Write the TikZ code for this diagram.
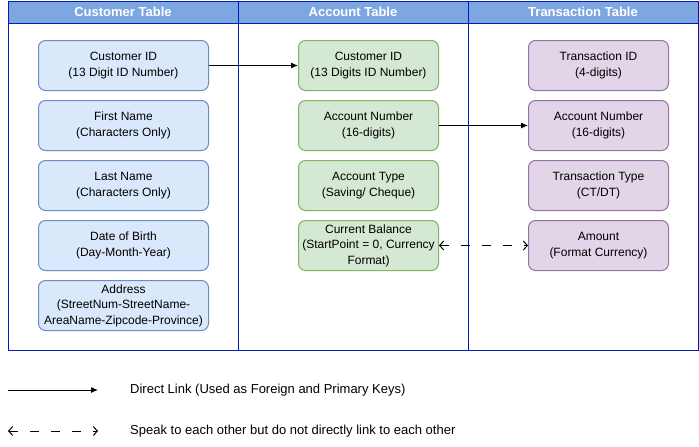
\documentclass[tikz,border=0pt]{standalone}
\usepackage{fontspec}
\setmainfont{Liberation Sans}
\usetikzlibrary{arrows.meta}
\definecolor{laneborder}{HTML}{001DBC}
\definecolor{lanehead}{HTML}{7EA6E0}
\definecolor{bluefill}{HTML}{DAE8FC}
\definecolor{bluedraw}{HTML}{6C8EBF}
\definecolor{greenfill}{HTML}{D5E8D4}
\definecolor{greendraw}{HTML}{82B366}
\definecolor{purplefill}{HTML}{E1D5E7}
\definecolor{purpledraw}{HTML}{9673A6}
\tikzset{
  field/.style={rectangle, rounded corners=7pt, line width=1pt, align=center,
    inner sep=0pt, font=\fontsize{12}{15.5}\selectfont, anchor=north west},
  custbox/.style={field, fill=bluefill, draw=bluedraw, minimum width=170pt, minimum height=50pt},
  acctbox/.style={field, fill=greenfill, draw=greendraw, minimum width=140pt, minimum height=50pt},
  transbox/.style={field, fill=purplefill, draw=purpledraw, minimum width=140pt, minimum height=50pt},
  headtext/.style={text=white, font=\fontsize{13}{15}\selectfont\bfseries},
  lane/.style={draw=laneborder, line width=1pt},
  direct/.style={-{Latex[length=7pt,width=6pt]}, line width=1pt},
  speak/.style={{Straight Barb[length=4pt,width=9pt]}-{Straight Barb[length=4pt,width=9pt]}, line width=1pt, dash pattern=on 9pt off 12pt},
  legtext/.style={anchor=west, inner sep=0pt, font=\fontsize{13}{15}\selectfont}
}
\begin{document}
\begin{tikzpicture}[x=1pt,y=-1pt]
\useasboundingbox (0,0) rectangle (699,447);
\fill[white] (0,0) rectangle (699,447);
% lanes
\fill[lanehead] (8,1) rectangle (698,23);
\draw[lane] (8,1) rectangle (698,350);
\draw[lane] (8,23) -- (698,23);
\draw[lane] (238,1) -- (238,350);
\draw[lane] (468,1) -- (468,350);
\node[headtext] (h1) at (123,12) {Customer Table};
\node[headtext] (h2) at (353,12) {Account Table};
\node[headtext] (h3) at (583,12) {Transaction Table};
% customer
\node[custbox] (c1) at (38,40) {Customer ID\\(13 Digit ID Number)};
\node[custbox] (c2) at (38,100) {First Name\\(Characters Only)};
\node[custbox] (c3) at (38,160) {Last Name\\(Characters Only)};
\node[custbox] (c4) at (38,220) {Date of Birth\\(Day-Month-Year)};
\node[custbox] (c5) at (38,280) {Address\\(StreetNum-StreetName-\\AreaName-Zipcode-Province)};
% account
\node[acctbox] (a1) at (298,40) {Customer ID\\(13 Digits ID Number)};
\node[acctbox] (a2) at (298,100) {Account Number\\(16-digits)};
\node[acctbox] (a3) at (298,160) {Account Type\\(Saving/ Cheque)};
\node[acctbox] (a4) at (298,220) {Current Balance\\(StartPoint = 0, Currency\\Format)};
% transaction
\node[transbox] (t1) at (528,40) {Transaction ID\\(4-digits)};
\node[transbox] (t2) at (528,100) {Account Number\\(16-digits)};
\node[transbox] (t3) at (528,160) {Transaction Type\\(CT/DT)};
\node[transbox] (t4) at (528,220) {Amount\\(Format Currency)};
% links
\draw[direct] (c1.east) -- (a1.west);
\draw[direct] (a2.east) -- (t2.west);
\draw[speak] (a4.east) -- (t4.west);
% legend
\coordinate (l1a) at (8,390);
\coordinate (l1b) at (98,390);
\coordinate (l2a) at (8,431);
\coordinate (l2b) at (98,431);
\draw[direct] (l1a) -- (l1b);
\draw[speak] (l2a) -- (l2b);
\node[legtext] (lt1) at (130,390) {Direct Link (Used as Foreign and Primary Keys)};
\node[legtext] (lt2) at (130,431) {Speak to each other but do not directly link to each other};
\end{tikzpicture}
\end{document}
